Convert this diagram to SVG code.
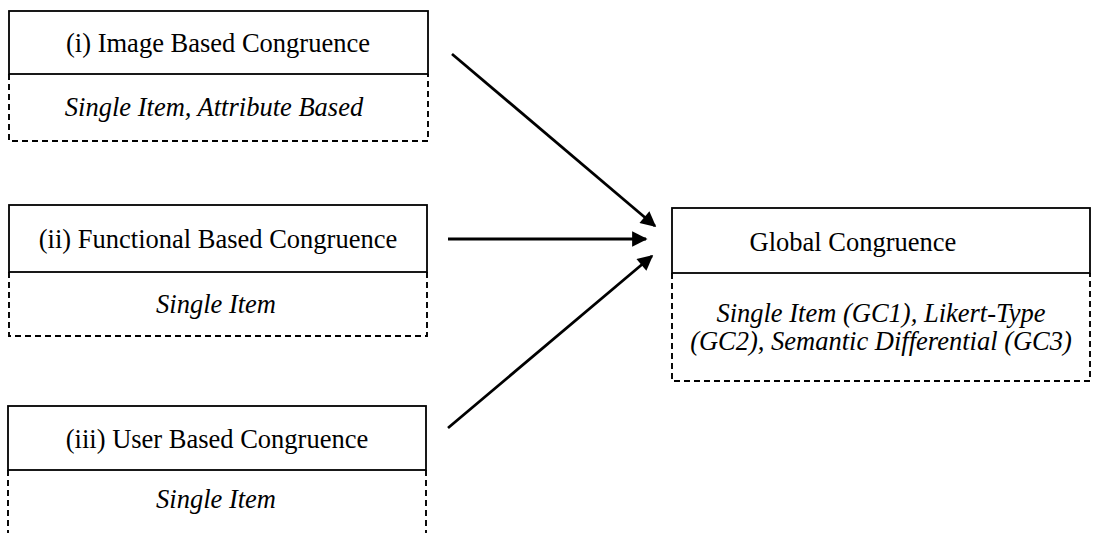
<svg xmlns="http://www.w3.org/2000/svg" width="1095" height="533" viewBox="0 0 1095 533">
<style>
.box{fill:none;stroke:#000;stroke-width:1.8}
.dash{fill:none;stroke:#000;stroke-width:1.9;stroke-dasharray:6 4}
.t{font-family:"Liberation Serif","Times New Roman",serif;font-size:26.5px;fill:#000;text-anchor:middle}
.s{font-family:"Liberation Serif","Times New Roman",serif;font-size:26.5px;font-style:italic;fill:#000;text-anchor:middle}
.arr{stroke:#000;stroke-width:2.8;fill:none;marker-end:url(#ah)}
</style>
<defs>
<marker id="ah" viewBox="0 0 10 10" refX="9" refY="5" markerWidth="7" markerHeight="5.5" markerUnits="strokeWidth" orient="auto">
<path d="M0,0 L10,5 L0,10 z" fill="#000"/>
</marker>
</defs>
<rect width="1095" height="533" fill="#fff"/>
<g id="image-based">
<rect class="box" x="9" y="11" width="419" height="63"/>
<path class="dash" d="M9,74 V141 H428 V74"/>
<text class="t" x="218" y="52">(i) Image Based Congruence</text>
<text class="s" x="214" y="116">Single Item, Attribute Based</text>
</g>
<g id="functional-based">
<rect class="box" x="9" y="205" width="418" height="67"/>
<path class="dash" d="M9,272 V336 H427 V272"/>
<text class="t" x="218" y="248">(ii) Functional Based Congruence</text>
<text class="s" x="216" y="313">Single Item</text>
</g>
<g id="user-based">
<rect class="box" x="8" y="406" width="418" height="64"/>
<path class="dash" d="M8,470 V533 M426,470 V533"/>
<text class="t" x="217" y="448">(iii) User Based Congruence</text>
<text class="s" x="216" y="508">Single Item</text>
</g>
<g id="global">
<rect class="box" x="672" y="208" width="418" height="65"/>
<path class="dash" d="M672,273 V381 H1090 V273"/>
<text class="t" x="853" y="251">Global Congruence</text>
<text class="s" x="881" y="322">Single Item (GC1), Likert-Type</text>
<text class="s" x="881" y="350">(GC2), Semantic Differential (GC3)</text>
</g>
<g id="connectors">
<line class="arr" x1="452" y1="54" x2="655" y2="226"/>
<line class="arr" x1="448" y1="239" x2="646" y2="239"/>
<line class="arr" x1="448" y1="428" x2="652" y2="256"/>
</g>
</svg>
